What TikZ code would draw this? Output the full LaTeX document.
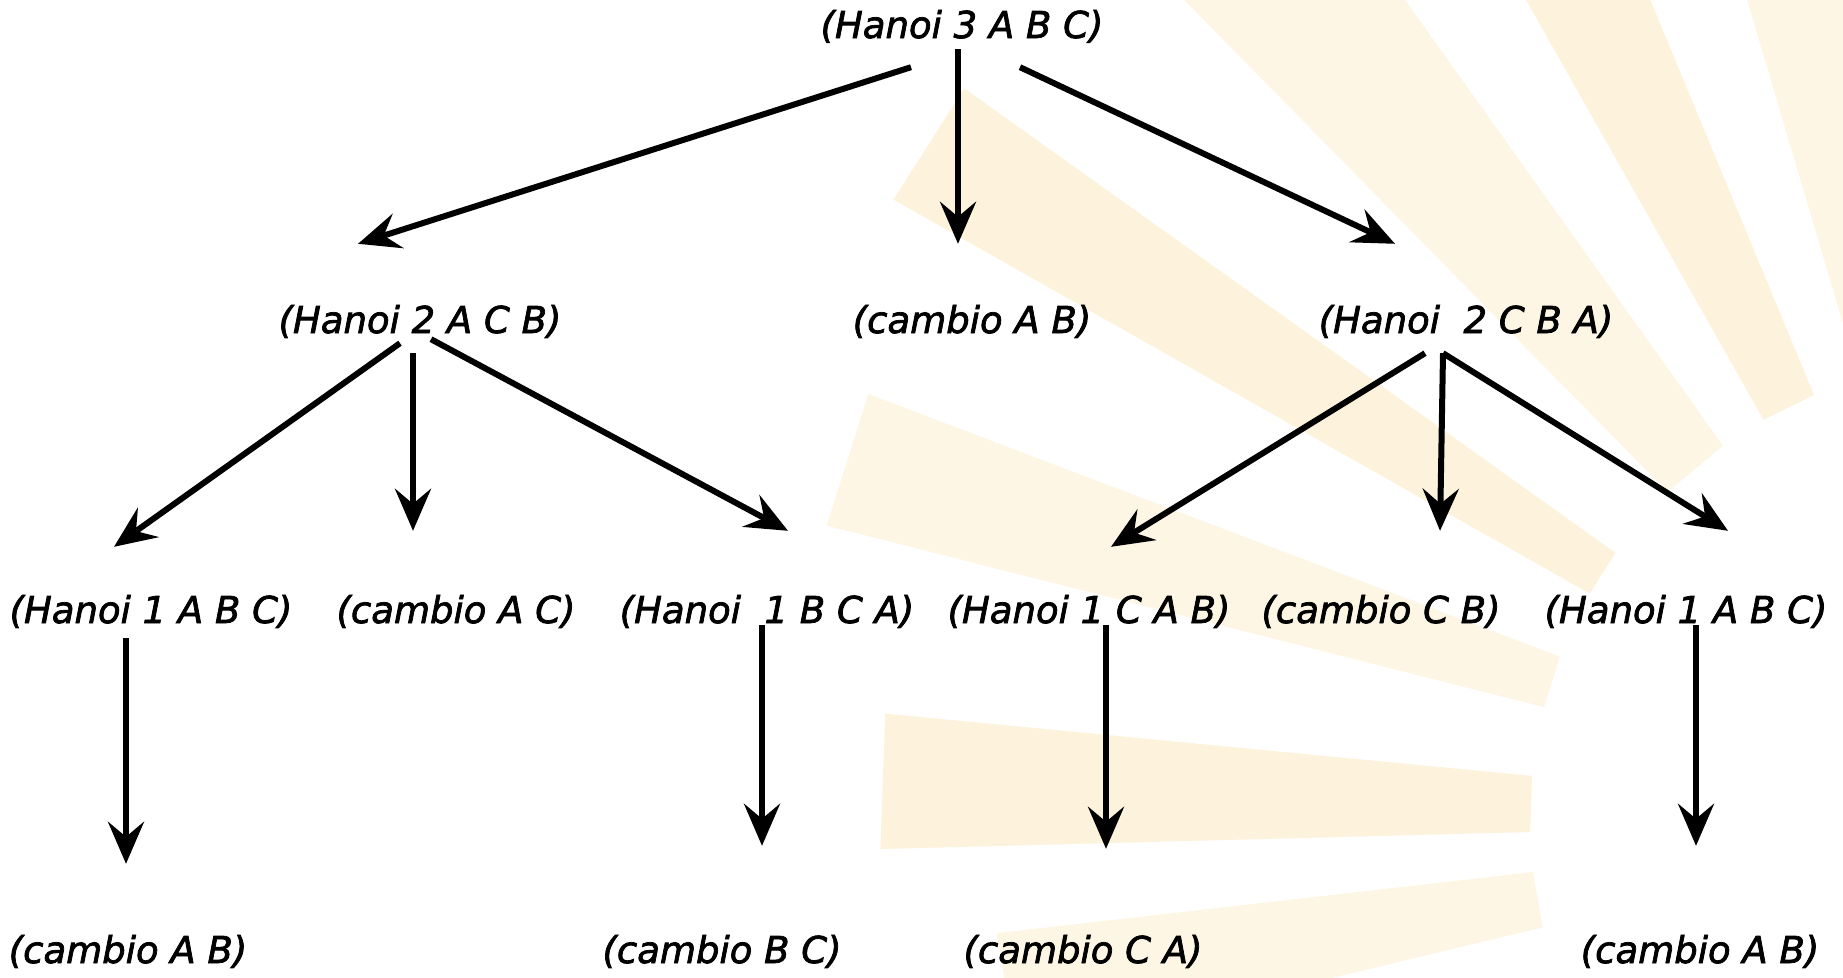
\documentclass[tikz,border=0pt]{standalone}
\usepackage{fontspec}
\setmainfont{DejaVu Sans}[FakeBold=2]
\usepackage{tikz}
\usetikzlibrary{arrows.meta,calc}
\definecolor{rayyellow}{RGB}{254,246,228}
\definecolor{rayorange}{RGB}{253,242,220}
\tikzset{
    call/.style={anchor=base,inner sep=0pt,text height=27pt,text depth=8pt,font=\itshape\fontsize{37}{44}\selectfont},
    arr/.style={line width=6pt,-{Stealth[length=42pt,width=36pt,inset=15pt]}},
}

\begin{document}
\begin{tikzpicture}[x=1pt,y=-1pt]
    \useasboundingbox (0,0) rectangle (1843,977);
    % faint sun rays in the back
    \coordinate (sun) at (1990,820);
    \begin{scope}
        \clip (0,0) rectangle (1843,977);
        \foreach \a/\w/\r/\c in {103/3.5/1300/rayyellow,116/3.5/1300/rayorange,130/4.5/1300/rayyellow,147.5/3/1260/rayorange,162.5/3.3/1200/rayyellow,178/3.5/1110/rayorange,190/3.5/1000/rayyellow}{
            \fill[\c] ($(sun)+({-\a+\w}:460)$) -- ($(sun)+({-\a+\w}:\r)$) -- ($(sun)+({-\a-\w}:\r)$) -- ($(sun)+({-\a-\w}:460)$) -- cycle;
        }
    \end{scope}

    \node[call] (hanoi3) at (962,38) {(Hanoi 3 A B C)}; % root

    \node[call] (hanoiACB) at (420,333) {(Hanoi 2 A C B)}; % level 2
    \node[call] (cambioAB) at (972,333) {(cambio A B)};
    \node[call] (hanoiCBA) at (1466,333) {(Hanoi\ \ 2 C B A)};

    \node[call] (hanoiABCa) at (151,623) {(Hanoi 1 A B C)}; % level 3
    \node[call] (cambioAC) at (456,623) {(cambio A C)};
    \node[call] (hanoiBCA) at (767,623) {(Hanoi\ \ 1 B C A)};
    \node[call] (hanoiCAB) at (1089,623) {(Hanoi 1 C A B)};
    \node[call] (cambioCB) at (1381,623) {(cambio C B)};
    \node[call] (hanoiABCb) at (1686,623) {(Hanoi 1 A B C)};

    \node[call] (cambioABa) at (128,963) {(cambio A B)}; % level 4
    \node[call] (cambioBC) at (722,963) {(cambio B C)};
    \node[call] (cambioCA) at (1083,963) {(cambio C A)};
    \node[call] (cambioABb) at (1700,963) {(cambio A B)};

    % arrows
    \draw[arr] ($(hanoi3.south)+(-51,21)$) -- ($(hanoiACB.north)+(-62,-62)$);
    \draw[arr] ($(hanoi3.south)+(-4,3)$) -- ($(cambioAB.north)+(-14,-62)$);
    \draw[arr] ($(hanoi3.south)+(58,21)$) -- ($(hanoiCBA.north)+(-71,-62)$);

    \draw[arr] ($(hanoiACB.south)+(-20,2)$) -- ($(hanoiABCa.north)+(-37,-49)$);
    \draw[arr] ($(hanoiACB.south)+(-7,12)$) -- ($(cambioAC.north)+(-43,-65)$);
    \draw[arr] ($(hanoiACB.south)+(11,-2)$) -- ($(hanoiBCA.north)+(21,-65)$);

    \draw[arr] ($(hanoiCBA.south)+(-41,12)$) -- ($(hanoiCAB.north)+(22,-49)$);
    \draw[arr] ($(hanoiCBA.south)+(-23,12)$) -- ($(cambioCB.north)+(59,-65)$);
    \draw[arr] ($(hanoiCBA.south)+(-23,12)$) -- ($(hanoiABCb.north)+(42,-65)$);

    \draw[arr] ($(hanoiABCa.south)+(-25,7)$) -- ($(cambioABa.north)+(-2,-72)$);
    \draw[arr] ($(hanoiBCA.south)+(-5,-6)$) -- ($(cambioBC.north)+(40,-90)$);
    \draw[arr] ($(hanoiCAB.south)+(17,-6)$) -- ($(cambioCA.north)+(23,-87)$);
    \draw[arr] ($(hanoiABCb.south)+(10,-6)$) -- ($(cambioABb.north)+(-4,-90)$);
\end{tikzpicture}
\end{document}
